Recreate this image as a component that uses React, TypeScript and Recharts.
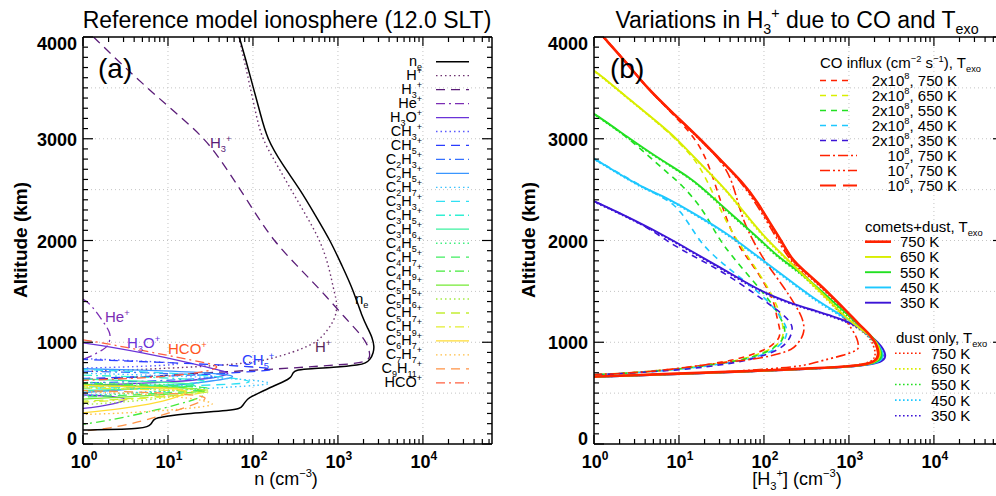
import React from 'react';
import { LineChart, Line, XAxis, YAxis, ReferenceLine } from 'recharts';

type Profile = [number, number][];

const FONT = '"Liberation Sans", Arial, Helvetica, sans-serif';

// ---- axes ----
const xDomain: [number, number] = [1, 65000];
const yDomain: [number, number] = [0, 4000];
const xTicks = [
  1, 2, 3, 4, 5, 6, 7, 8, 9,
  10, 20, 30, 40, 50, 60, 70, 80, 90,
  100, 200, 300, 400, 500, 600, 700, 800, 900,
  1000, 2000, 3000, 4000, 5000, 6000, 7000, 8000, 9000,
  10000, 20000, 30000, 40000, 50000, 60000,
];
const xMajor = [1, 10, 100, 1000, 10000];
const xMajorExp = ['0', '1', '2', '3', '4'];
const yTicks = [
  0, 100, 200, 300, 400, 500, 600, 700, 800, 900,
  1000, 1100, 1200, 1300, 1400, 1500, 1600, 1700, 1800, 1900,
  2000, 2100, 2200, 2300, 2400, 2500, 2600, 2700, 2800, 2900,
  3000, 3100, 3200, 3300, 3400, 3500, 3600, 3700, 3800, 3900, 4000,
];
const yLabelTicks = [0, 1000, 2000, 3000, 4000];
const xGrid = [10, 100, 1000, 10000];
const yGrid = [500, 1000, 1500, 2000, 2500, 3000, 3500];

// ---- panel (a): reference ionosphere, [density cm-3, altitude km] ----
const neProfile: Profile = [
  [69, 4000], [84, 3750], [101, 3500], [122, 3250], [146, 3000], [220, 2750], [360, 2500], [540, 2250],
  [813, 2000], [1120, 1750], [1510, 1517], [1915, 1254], [2290, 1123], [2550, 1040], [2673, 958],
  [2620, 900], [2400, 827], [2100, 795], [1830, 778], [900, 752], [400, 738], [320, 725], [295, 700],
  [290, 680], [275, 650], [240, 620], [175, 570], [110, 490], [90, 455], [82, 420], [76, 380],
  [71, 345], [50, 330], [30, 315], [17, 300], [9.7, 275], [7.5, 258], [6.8, 240], [6.6, 220],
  [6.3, 195], [5.8, 170], [4.5, 152], [3, 146], [1.5, 139], [0.6, 136],
];
const hPlusProfile: Profile = [
  [68, 4000], [80, 3750], [93, 3500], [108, 3250], [127, 3000], [190, 2750], [280, 2500], [420, 2250],
  [620, 2000], [780, 1750], [890, 1517], [950, 1430], [975, 1353], [940, 1250], [810, 1155],
  [680, 1070], [540, 995], [400, 945], [300, 905], [200, 860], [150, 830], [90, 800], [60, 785],
  [30, 765], [10, 745], [3, 725], [1, 712], [0.6, 708],
];
const h3PlusProfile: Profile = [
  [1.33, 4000], [2.7, 3750], [5.7, 3500], [12.5, 3250], [27.5, 3000], [45, 2750], [71, 2500],
  [110, 2250], [174, 2000], [330, 1750], [620, 1517], [1270, 1221], [1750, 1100], [2190, 992],
  [2350, 910], [2400, 840], [2000, 805], [1600, 790], [600, 765], [200, 738], [50, 712], [10, 675],
  [3, 650], [1, 632], [0.6, 628],
];
const hePlusProfile: Profile = [
  [0.6, 1470], [1, 1438], [1.25, 1360], [1.46, 1290], [1.7, 1210], [1.9, 1150], [2.05, 1100],
  [2.1, 1057], [2.05, 1005], [1.95, 960], [1.7, 925], [1.5, 900], [1.22, 860], [1, 827], [0.6, 805],
];
const h3oUpper: Profile = [
  [0.6, 1012], [1, 998], [5, 900], [20, 790], [40, 725], [60, 690], [30, 640], [12, 612], [4, 592], [1, 576], [0.6, 570],
];
const h3oLower: Profile = [
  [0.6, 486], [1, 483], [2, 472], [2.9, 455], [3.2, 440], [2.9, 415], [2.3, 395], [1.6, 370], [1, 347], [0.6, 340],
];
const ch3Profile: Profile = [[0.6, 845], [1, 840], [5, 815], [18, 790], [8, 770], [3, 756], [1, 746], [0.6, 742]];
const ch5Profile: Profile = [
  [0.6, 836], [1, 832], [10, 800], [60, 772], [240, 735], [100, 712], [40, 690], [10, 668], [3, 655], [1, 645], [0.6, 640],
];
const c2h3Profile: Profile = [[0.6, 722], [1, 716], [5, 702], [20, 682], [50, 660], [15, 632], [4, 612], [1, 600], [0.6, 597]];
const c2h5Profile: Profile = [
  [0.6, 744], [1, 740], [10, 720], [45, 690], [70, 660], [30, 612], [8, 562], [2, 522], [1, 506], [0.6, 500],
];
const c2h7Profile: Profile = [
  [0.6, 702], [1, 696], [10, 672], [80, 640], [230, 592], [60, 562], [10, 522], [2, 492], [1, 480], [0.6, 476],
];
const c3h3Profile: Profile = [[0.6, 736], [1, 732], [10, 702], [60, 652], [120, 602], [40, 582], [8, 562], [1, 546], [0.6, 542]];
const c3h5Profile: Profile = [[0.6, 682], [1, 676], [10, 652], [35, 622], [20, 592], [5, 572], [1, 560], [0.6, 557]];
const c3h6Profile: Profile = [[0.6, 642], [1, 638], [8, 612], [30, 582], [10, 552], [2, 532], [1, 525], [0.6, 522]];
const c4h5Profile: Profile = [[0.6, 612], [1, 606], [10, 586], [35, 560], [12, 522], [3, 492], [1, 470], [0.6, 466]];
const c4h7Profile: Profile = [[0.6, 602], [1, 597], [10, 576], [45, 550], [15, 512], [4, 482], [1, 460], [0.6, 456]];
const c4h9Profile: Profile = [
  [0.6, 592], [1, 586], [10, 566], [26, 540], [30, 480], [15, 400], [5, 300], [2, 232], [1, 192], [0.6, 180],
];
const c5h5Profile: Profile = [[0.6, 588], [1, 582], [10, 561], [40, 530], [15, 500], [3, 461], [1, 440], [0.6, 436]];
const c5h6Profile: Profile = [[0.6, 562], [1, 556], [10, 536], [24, 510], [8, 442], [2, 402], [1, 386], [0.6, 382]];
const c5h7Profile: Profile = [[0.6, 576], [1, 571], [12, 551], [45, 526], [20, 492], [5, 452], [1, 420], [0.6, 416]];
const c5h9Profile: Profile = [[0.6, 556], [1, 551], [10, 531], [35, 506], [12, 472], [3, 432], [1, 410], [0.6, 406]];
const c6h7Profile: Profile = [
  [0.6, 580], [1, 576], [8, 556], [18, 532], [15, 480], [7.4, 401], [3, 350], [1, 305], [0.6, 298],
];
const c7h7Profile: Profile = [
  [0.6, 522], [1, 516], [10, 482], [30, 422], [38, 382], [15, 342], [3, 302], [1, 290], [0.6, 287],
];
const c9h11Profile: Profile = [
  [0.6, 532], [1, 526], [10, 502], [30, 472], [27, 422], [10, 302], [5, 222], [2, 152], [1, 126], [0.6, 120],
];
const hcoProfile: Profile = [
  [0.6, 1040], [1, 1030], [5, 920], [20, 820], [48, 762], [25, 702], [10, 665], [4, 645], [1, 625], [0.6, 620],
];

// ---- panel (b): H3+ variations, [density cm-3, altitude km] ----
// comets+dust (solid)
const solid750: Profile = [
  [1.29, 4000], [2.4, 3750], [4.2, 3500], [7.6, 3290], [17.7, 3000], [30, 2800], [57, 2568],
  [85, 2370], [117, 2174], [160, 2000], [212, 1812], [300, 1700], [436, 1580], [650, 1440],
  [980, 1290], [1300, 1180], [1690, 1090], [1950, 1025], [2150, 960], [2230, 900], [2200, 860],
  [2100, 828], [1800, 790], [1000, 760], [300, 740], [100, 722], [30, 706], [10, 692], [3, 676],
  [1, 662], [0.6, 656],
];
const solid650: Profile = [
  [0.8, 3720], [1, 3677], [2.5, 3400], [6, 3142], [9.4, 3000], [15, 2820], [25, 2633], [38, 2470],
  [55, 2305], [95, 2060], [170, 1850], [260, 1700], [400, 1550], [620, 1390], [980, 1221],
  [1400, 1125], [1850, 1057], [2150, 990], [2300, 925], [2330, 890], [2260, 850], [2150, 826],
  [1850, 790], [1000, 759], [300, 739], [100, 721], [30, 705], [10, 691], [3, 675], [1, 661], [0.6, 655],
];
const solid550: Profile = [
  [0.8, 3290], [1, 3250], [2.65, 3000], [6, 2797], [14.7, 2600], [23, 2450], [36, 2305], [58, 2150],
  [90, 2009], [150, 1830], [276, 1681], [450, 1520], [750, 1352], [1100, 1230], [1540, 1123],
  [1950, 1040], [2250, 965], [2430, 888], [2400, 852], [2300, 826], [1950, 790], [1000, 758],
  [300, 738], [100, 720], [30, 704], [10, 690], [3, 674], [1, 661], [0.6, 655],
];
const solid450: Profile = [
  [0.8, 2850], [1, 2807], [2, 2650], [4.2, 2500], [6, 2453], [14.7, 2272], [36, 2075], [69, 1900],
  [123, 1740], [240, 1560], [436, 1400], [800, 1270], [1290, 1160], [1750, 1065], [2150, 990],
  [2450, 920], [2530, 880], [2480, 848], [2380, 822], [1950, 788], [1000, 757], [300, 737],
  [100, 719], [30, 703], [10, 689], [3, 673], [1, 660], [0.6, 654],
];
const solid350: Profile = [
  [0.8, 2420], [1, 2387], [3, 2200], [8.2, 2009], [15, 1880], [29, 1746], [55, 1610], [102, 1484],
  [190, 1395], [363, 1320], [650, 1255], [1070, 1189], [1500, 1115], [1850, 1057], [2250, 990],
  [2550, 930], [2700, 875], [2650, 845], [2500, 818], [2000, 786], [1000, 756], [300, 736],
  [100, 718], [30, 702], [10, 688], [3, 672], [1, 659], [0.6, 653],
];
// CO influx 2x10^8 (dashed)
const dash750: Profile = [
  [1.29, 4000], [2.4, 3750], [4.2, 3500], [8.3, 3250], [17.6, 2962], [25, 2633], [33, 2305], [45, 2009],
  [62, 1840], [86, 1681], [123, 1451], [135, 1350], [141, 1254], [155, 1123], [154, 1070],
  [147, 1024], [125, 970], [102, 926], [70, 875], [46, 827], [25, 790], [11.8, 746], [5, 718],
  [2.3, 696], [1, 680], [0.6, 676],
];
const dash650: Profile = [
  [0.8, 3720], [1, 3677], [2.5, 3400], [6, 3142], [12, 2900], [17.6, 2732], [25, 2469], [40, 2100],
  [70, 1800], [110, 1550], [145, 1350], [165, 1200], [170, 1110], [167, 1060], [158, 1010],
  [135, 960], [110, 915], [75, 865], [50, 822], [25, 785], [12, 743], [5, 716], [2.3, 695], [1, 680], [0.6, 676],
];
const dash550: Profile = [
  [0.8, 3290], [1, 3250], [2.65, 3000], [7.2, 2666], [10.3, 2568], [19.4, 2305], [28, 2042], [42, 1845],
  [75, 1600], [120, 1400], [160, 1230], [178, 1130], [174, 1075], [165, 1020], [140, 965],
  [118, 915], [80, 865], [52, 820], [26, 782], [12, 742], [5, 715], [2.3, 694], [1, 679], [0.6, 675],
];
const dash450: Profile = [
  [0.8, 2850], [1, 2807], [4.2, 2500], [7.2, 2403], [10.3, 2305], [16, 2042], [23, 1878], [50, 1650],
  [100, 1450], [150, 1280], [188, 1140], [185, 1080], [177, 1025], [150, 965], [127, 915], [85, 860],
  [55, 818], [27, 780], [13, 740], [5, 714], [2.3, 693], [1, 678], [0.6, 674],
];
const dash350: Profile = [
  [0.8, 2420], [1, 2387], [4, 2150], [7.2, 1993], [14.7, 1845], [35, 1681], [86, 1451], [161, 1287],
  [205, 1200], [218, 1140], [210, 1080], [196, 1024], [175, 975], [147, 926], [100, 870], [60, 815],
  [30, 776], [14, 738], [5, 712], [2.3, 692], [1, 677], [0.6, 673],
];
// other CO influx rates at 750 K
const flux1e8: Profile = [
  [1.29, 4000], [2.4, 3750], [4.2, 3500], [7.6, 3290], [17.5, 3000], [36, 2732], [45, 2500],
  [52, 2305], [63, 2108], [100, 1800], [170, 1550], [240, 1350], [280, 1250], [298, 1155],
  [294, 1100], [282, 1050], [250, 985], [213, 926], [150, 885], [100, 850], [55, 820], [29, 795],
  [12, 752], [4.8, 712], [2, 692], [1, 682], [0.6, 677],
];
const flux1e7: Profile = [
  [1.29, 4000], [2.4, 3750], [4.2, 3500], [7.6, 3290], [17.7, 3000], [30, 2800], [56, 2568],
  [112, 2174], [195, 1812], [300, 1660], [522, 1451], [700, 1340], [900, 1230], [1100, 1120],
  [1250, 1040], [1310, 958], [1270, 925], [1120, 905], [850, 870], [600, 840], [400, 800],
  [264, 761], [100, 735], [40, 712], [17.6, 694], [5, 677], [1, 664], [0.6, 658],
];
const flux1e6: Profile = [
  [1.29, 4000], [2.4, 3750], [4.2, 3500], [7.6, 3288], [17.7, 2998], [30, 2798], [57, 2566],
  [85, 2368], [117, 2172], [160, 1998], [212, 1810], [300, 1698], [436, 1578], [650, 1438],
  [975, 1288], [1300, 1178], [1680, 1088], [1940, 1023], [2120, 960], [2200, 900], [2170, 860],
  [2080, 828], [1780, 790], [1000, 760], [300, 740], [100, 722], [30, 706], [10, 692], [3, 676],
  [1, 662], [0.6, 656],
];
// dust only (dotted)
const dust750: Profile = [
  [1.29, 4000], [2.4, 3750], [4.2, 3500], [7.5, 3285], [17.5, 2995], [30, 2795], [56, 2560],
  [84, 2365], [114, 2168], [155, 1995], [205, 1808], [290, 1695], [420, 1575], [630, 1436],
  [930, 1285], [1230, 1175], [1580, 1082], [1820, 1020], [1950, 965], [2050, 900], [2020, 860],
  [1940, 830], [1650, 790], [900, 759], [300, 740], [100, 722], [30, 706], [10, 692], [3, 676],
  [1, 662], [0.6, 656],
];
const dust650: Profile = [
  [0.8, 3712], [1, 3670], [2.5, 3393], [6, 3135], [9.3, 2995], [15, 2815], [25, 2625], [38, 2464],
  [54, 2300], [93, 2055], [165, 1845], [255, 1696], [385, 1545], [600, 1386], [930, 1218],
  [1330, 1120], [1760, 1052], [2030, 988], [2170, 925], [2200, 892], [2140, 850], [2040, 826],
  [1750, 790], [950, 759], [300, 739], [100, 721], [30, 705], [10, 691], [3, 675], [1, 661], [0.6, 655],
];
const dust550: Profile = [
  [0.8, 3283], [1, 3245], [2.6, 2995], [6, 2790], [14.5, 2595], [22.5, 2446], [35, 2300], [57, 2146],
  [88, 2005], [146, 1826], [268, 1677], [435, 1516], [720, 1348], [1050, 1227], [1480, 1120],
  [1870, 1037], [2150, 962], [2330, 888], [2300, 852], [2210, 826], [1860, 790], [960, 758],
  [300, 738], [100, 720], [30, 704], [10, 690], [3, 674], [1, 661], [0.6, 655],
];
const dust450: Profile = [
  [0.8, 2843], [1, 2800], [2, 2645], [4.1, 2495], [6, 2447], [14.5, 2266], [35, 2070], [67, 1896],
  [120, 1736], [232, 1556], [420, 1396], [770, 1266], [1240, 1157], [1680, 1062], [2060, 988],
  [2350, 918], [2430, 880], [2380, 848], [2280, 822], [1870, 788], [960, 757], [300, 737],
  [100, 719], [30, 703], [10, 689], [3, 673], [1, 660], [0.6, 654],
];
const dust350: Profile = [
  [0.8, 2413], [1, 2380], [3, 2194], [8, 2004], [14.6, 1876], [28, 1742], [53, 1606], [98, 1480],
  [182, 1391], [350, 1316], [625, 1251], [1030, 1186], [1440, 1112], [1780, 1054], [2160, 988],
  [2450, 928], [2600, 875], [2550, 845], [2400, 818], [1920, 786], [960, 756], [300, 736],
  [100, 718], [30, 702], [10, 688], [3, 672], [1, 659], [0.6, 653],
];

// ---- styles ----
const DOT = '1.5 3';
const DASH = '9 6';
const DASHDOT = '9 4 2 4';
const B_DOT = '1.6 2.4';
const B_DASH = '6 5';
const B_DASHDOT = '10 3 2 3';
const B_DASH3DOT = '10 3 2 3 2 3 2 3';
const B_LONG = '16 7';

const RED = '#ff2200';
const YELLOW = '#d9ee00';
const GREEN = '#22e022';
const CYAN = '#1ec8ff';
const BLUE = '#3c14d6';

interface Series {
  label: string;
  color: string;
  dash: string;
  width: number;
  segments: Profile[];
}

const ionSeries: Series[] = [
  { label: 'n_{e}', color: '#000000', dash: '', width: 1.5, segments: [neProfile] },
  { label: 'H^{+}', color: '#6e3270', dash: DOT, width: 1.4, segments: [hPlusProfile] },
  { label: 'H_{3}^{+}', color: '#5a1c78', dash: DASH, width: 1.3, segments: [h3PlusProfile] },
  { label: 'He^{+}', color: '#7b2db4', dash: DASHDOT, width: 1.3, segments: [hePlusProfile] },
  { label: 'H_{3}O^{+}', color: '#6a33d8', dash: '', width: 1.3, segments: [h3oUpper, h3oLower] },
  { label: 'CH_{3}^{+}', color: '#5a5aff', dash: DOT, width: 1.4, segments: [ch3Profile] },
  { label: 'CH_{5}^{+}', color: '#2a3cff', dash: DASH, width: 1.3, segments: [ch5Profile] },
  { label: 'C_{2}H_{3}^{+}', color: '#3470ff', dash: DASHDOT, width: 1.3, segments: [c2h3Profile] },
  { label: 'C_{2}H_{5}^{+}', color: '#3a96ff', dash: '', width: 1.3, segments: [c2h5Profile] },
  { label: 'C_{2}H_{7}^{+}', color: '#3cc4ff', dash: DOT, width: 1.4, segments: [c2h7Profile] },
  { label: 'C_{3}H_{3}^{+}', color: '#30e0f4', dash: DASH, width: 1.3, segments: [c3h3Profile] },
  { label: 'C_{3}H_{5}^{+}', color: '#30f0d4', dash: DASHDOT, width: 1.3, segments: [c3h5Profile] },
  { label: 'C_{3}H_{6}^{+}', color: '#3cf2a0', dash: '', width: 1.3, segments: [c3h6Profile] },
  { label: 'C_{4}H_{5}^{+}', color: '#40f080', dash: DOT, width: 1.4, segments: [c4h5Profile] },
  { label: 'C_{4}H_{7}^{+}', color: '#40ee60', dash: DASH, width: 1.3, segments: [c4h7Profile] },
  { label: 'C_{4}H_{9}^{+}', color: '#44ea3c', dash: DASHDOT, width: 1.3, segments: [c4h9Profile] },
  { label: 'C_{5}H_{5}^{+}', color: '#74ea34', dash: '', width: 1.3, segments: [c5h5Profile] },
  { label: 'C_{5}H_{6}^{+}', color: '#a4ec44', dash: DOT, width: 1.4, segments: [c5h6Profile] },
  { label: 'C_{5}H_{7}^{+}', color: '#c4ee34', dash: DASH, width: 1.3, segments: [c5h7Profile] },
  { label: 'C_{5}H_{9}^{+}', color: '#e4ee30', dash: DASHDOT, width: 1.3, segments: [c5h9Profile] },
  { label: 'C_{6}H_{7}^{+}', color: '#ffdc34', dash: '', width: 1.3, segments: [c6h7Profile] },
  { label: 'C_{7}H_{7}^{+}', color: '#ffbe44', dash: DOT, width: 1.4, segments: [c7h7Profile] },
  { label: 'C_{9}H_{11}^{+}', color: '#ff9244', dash: DASH, width: 1.3, segments: [c9h11Profile] },
  { label: 'HCO^{+}', color: '#ff6040', dash: DASHDOT, width: 1.3, segments: [hcoProfile] },
];

const fluxSeries: Series[] = [
  { label: '2x10^{8}, 750 K', color: RED, dash: B_DASH, width: 1.6, segments: [dash750] },
  { label: '2x10^{8}, 650 K', color: YELLOW, dash: B_DASH, width: 1.6, segments: [dash650] },
  { label: '2x10^{8}, 550 K', color: GREEN, dash: B_DASH, width: 1.6, segments: [dash550] },
  { label: '2x10^{8}, 450 K', color: CYAN, dash: B_DASH, width: 1.6, segments: [dash450] },
  { label: '2x10^{8}, 350 K', color: BLUE, dash: B_DASH, width: 1.6, segments: [dash350] },
  { label: '10^{8}, 750 K', color: RED, dash: B_DASHDOT, width: 1.6, segments: [flux1e8] },
  { label: '10^{7}, 750 K', color: RED, dash: B_DASH3DOT, width: 1.6, segments: [flux1e7] },
  { label: '10^{6}, 750 K', color: RED, dash: B_LONG, width: 1.8, segments: [flux1e6] },
];
const cometSeries: Series[] = [
  { label: '750 K', color: RED, dash: '', width: 2.6, segments: [solid750] },
  { label: '650 K', color: YELLOW, dash: '', width: 1.9, segments: [solid650] },
  { label: '550 K', color: GREEN, dash: '', width: 1.9, segments: [solid550] },
  { label: '450 K', color: CYAN, dash: '', width: 1.9, segments: [solid450] },
  { label: '350 K', color: BLUE, dash: '', width: 1.9, segments: [solid350] },
];
const dustSeries: Series[] = [
  { label: '750 K', color: RED, dash: B_DOT, width: 1.6, segments: [dust750] },
  { label: '650 K', color: YELLOW, dash: B_DOT, width: 1.6, segments: [dust650] },
  { label: '550 K', color: GREEN, dash: B_DOT, width: 1.6, segments: [dust550] },
  { label: '450 K', color: CYAN, dash: B_DOT, width: 1.6, segments: [dust450] },
  { label: '350 K', color: BLUE, dash: B_DOT, width: 1.6, segments: [dust350] },
];

// draw order: dotted and dashed first, solids on top (red last)
const h3Series: Series[] = [
  ...dustSeries,
  ...fluxSeries.slice(0, 5),
  ...fluxSeries.slice(5).reverse(),
  ...cometSeries.slice().reverse(),
];

const PLOT_H = 407;
const PLOT_W = 409;

// text with _{sub} and ^{sup} pieces
function RichText({ x, y, text, size, fill = '#000', anchor = 'start', weight = 'normal', transform }: any) {
  const parts: string[] = text.match(/_\{[^}]*\}|\^\{[^}]*\}|[^_^]+/g) || [];
  let cur = 0;
  const small = size * 0.62;
  return (
    <text x={x} y={y} fontSize={size} fill={fill} textAnchor={anchor} fontWeight={weight} transform={transform} fontFamily={FONT}>
      {parts.map((p, i) => {
        let off = 0;
        let fs = size;
        let t = p;
        if (p.startsWith('_{')) {
          off = size * 0.28;
          fs = small;
          t = p.slice(2, -1);
        } else if (p.startsWith('^{')) {
          off = -size * 0.42;
          fs = small;
          t = p.slice(2, -1);
        }
        const dy = off - cur;
        cur = off;
        return (
          <tspan key={i} dy={dy} fontSize={fs}>
            {t}
          </tspan>
        );
      })}
    </text>
  );
}

const XTick = (props: any) => {
  const { x, y, payload } = props;
  const idx = xMajor.indexOf(payload.value);
  const major = idx >= 0;
  const len = major ? 9 : 5;
  return (
    <g>
      <line x1={x} x2={x} y1={y} y2={y - len} stroke="#000" strokeWidth={1.2} />
      <line x1={x} x2={x} y1={y - PLOT_H} y2={y - PLOT_H + len} stroke="#000" strokeWidth={1.2} />
      {major ? (
        <text x={x + 1} y={y + 24} textAnchor="middle" fontSize={18} fontWeight="bold" fontFamily={FONT} fill="#000">
          10
          <tspan dy={-8} fontSize={12}>
            {xMajorExp[idx]}
          </tspan>
        </text>
      ) : null}
    </g>
  );
};

const YTick = (props: any) => {
  const { x, y, payload } = props;
  const v = payload.value;
  const major = yLabelTicks.includes(v);
  const len = major ? 10 : 5;
  const dy = v === 4000 ? 13 : v === 0 ? 1 : 7;
  return (
    <g>
      <line x1={x} x2={x + len} y1={y} y2={y} stroke="#000" strokeWidth={1.2} />
      <line x1={x + PLOT_W} x2={x + PLOT_W - len} y1={y} y2={y} stroke="#000" strokeWidth={1.2} />
      {major ? (
        <text x={x - 6} y={y + dy} textAnchor="end" fontSize={18} fontWeight="bold" fontFamily={FONT} fill="#000">
          {v}
        </text>
      ) : null}
    </g>
  );
};

const toPoints = (p: Profile) => p.map(([x, y]) => ({ x, y }));

function ProfilePanel({ width, margin, series }: { width: number; margin: any; series: Series[] }) {
  return (
    <LineChart width={width} height={496} margin={margin}>
      {yGrid.map((v) => (
        <ReferenceLine key={'gy' + v} y={v} stroke="#c4c4c4" strokeDasharray="1 3" />
      ))}
      {xGrid.map((v) => (
        <ReferenceLine key={'gx' + v} x={v} stroke="#c4c4c4" strokeDasharray="1 3" />
      ))}
      <XAxis
        type="number"
        dataKey="x"
        scale="log"
        domain={xDomain}
        allowDataOverflow
        ticks={xTicks}
        interval={0}
        tickSize={0}
        tickMargin={0}
        tickLine={false}
        tick={XTick}
        height={30}
        axisLine={{ stroke: '#000', strokeWidth: 1.5 }}
      />
      <YAxis
        type="number"
        dataKey="y"
        domain={yDomain}
        allowDataOverflow
        ticks={yTicks}
        interval={0}
        tickSize={0}
        tickMargin={0}
        tickLine={false}
        tick={YTick}
        width={60}
        axisLine={{ stroke: '#000', strokeWidth: 1.5 }}
      />
      {series.flatMap((s, i) =>
        s.segments.map((seg, j) => (
          <Line
            key={`${i}-${j}`}
            data={toPoints(seg)}
            dataKey="y"
            type="basis"
            stroke={s.color}
            strokeWidth={s.width}
            strokeDasharray={s.dash || undefined}
            dot={false}
            activeDot={false}
            isAnimationActive={false}
          />
        ))
      )}
      <ReferenceLine y={4000} stroke="#000" strokeWidth={1.5} ifOverflow="visible" />
      <ReferenceLine x={65000} stroke="#000" strokeWidth={1.5} ifOverflow="visible" />
    </LineChart>
  );
}

function Sample({ x1, x2, y, s }: { x1: number; x2: number; y: number; s: Series }) {
  return <line x1={x1} x2={x2} y1={y} y2={y} stroke={s.color} strokeWidth={s.width} strokeDasharray={s.dash || undefined} />;
}

export default function App() {
  const ionOrder = ionSeries.slice(1).concat(ionSeries.slice(0, 1));
  return (
    <div
      style={{
        position: 'absolute',
        left: 0,
        top: 0,
        width: 996,
        height: 496,
        overflow: 'hidden',
        background: '#fff',
        fontFamily: FONT,
      }}
    >
      <div style={{ position: 'absolute', left: 0, top: 0 }}>
        <ProfilePanel width={500} margin={{ top: 37, right: 8, bottom: 22, left: 23 }} series={ionOrder} />
      </div>
      <div style={{ position: 'absolute', left: 500, top: 0 }}>
        <ProfilePanel width={520} margin={{ top: 37, right: 17, bottom: 22, left: 34 }} series={h3Series} />
      </div>
      <svg width={996} height={496} style={{ position: 'absolute', left: 0, top: 0, pointerEvents: 'none' }}>
        {/* titles and axis titles */}
        <RichText x={287} y={28} size={23} text="Reference model ionosphere (12.0 SLT)" anchor="middle" />
        <RichText x={797} y={28} size={23} text="Variations in H_{3}^{+} due to CO and T_{exo}" anchor="middle" />
        <RichText x={286} y={485} size={18} text="n (cm^{−3})" anchor="middle" />
        <RichText x={797} y={485} size={18} text="[H_{3}^{+}] (cm^{−3})" anchor="middle" />
        <RichText x={27} y={240} size={19} weight="bold" text="Altitude (km)" anchor="middle" transform="rotate(-90 27 240)" />
        <RichText x={535} y={240} size={19} weight="bold" text="Altitude (km)" anchor="middle" transform="rotate(-90 535 240)" />
        <RichText x={98} y={78} size={28} text="(a)" />
        <RichText x={610} y={78} size={28} text="(b)" />

        {/* panel (a) curve labels */}
        <RichText x={210} y={148} size={15} fill="#5a1c78" text="H_{3}^{+}" />
        <RichText x={355} y={304} size={15} fill="#000" text="n_{e}" />
        <RichText x={315} y={352} size={15} fill="#5a2a5a" text="H^{+}" />
        <RichText x={105} y={322} size={15} fill="#7b2db4" text="He^{+}" />
        <RichText x={127} y={348} size={15} fill="#6a33d8" text="H_{3}O^{+}" />
        <RichText x={168} y={354} size={15} fill="#ff5522" text="HCO^{+}" />
        <RichText x={242} y={365} size={15} fill="#2a40ff" text="CH_{5}^{+}" />

        {/* panel (a) legend */}
        {ionSeries.map((s, i) => {
          const y = 61.7 + 13.96 * i;
          return (
            <g key={'la' + i}>
              <RichText x={422} y={y + 4.5} size={14.5} text={s.label} anchor="end" />
              <Sample x1={436} x2={469} y={y} s={s} />
            </g>
          );
        })}

        {/* panel (b) legends */}
        <RichText x={820} y={68} size={15} text="CO influx (cm^{−2} s^{−1}), T_{exo}" />
        {fluxSeries.map((s, i) => {
          const y = 80.5 + 15 * i;
          return (
            <g key={'lf' + i}>
              <Sample x1={820} x2={i < 5 ? 853 : 857} y={y} s={s} />
              <RichText x={957} y={y + 5} size={15} text={s.label} anchor="end" />
            </g>
          );
        })}
        <RichText x={865} y={232} size={15} text="comets+dust, T_{exo}" />
        {cometSeries.map((s, i) => {
          const y = 241.7 + 15.25 * i;
          return (
            <g key={'lc' + i}>
              <Sample x1={865} x2={891} y={y} s={s} />
              <RichText x={900} y={y + 5.5} size={15} text={s.label} />
            </g>
          );
        })}
        <RichText x={896} y={343} size={15} text="dust only, T_{exo}" />
        {dustSeries.map((s, i) => {
          const y = 353.3 + 15.6 * i;
          return (
            <g key={'ld' + i}>
              <Sample x1={895} x2={922} y={y} s={s} />
              <RichText x={931} y={y + 5.5} size={15} text={s.label} />
            </g>
          );
        })}
      </svg>
    </div>
  );
}
